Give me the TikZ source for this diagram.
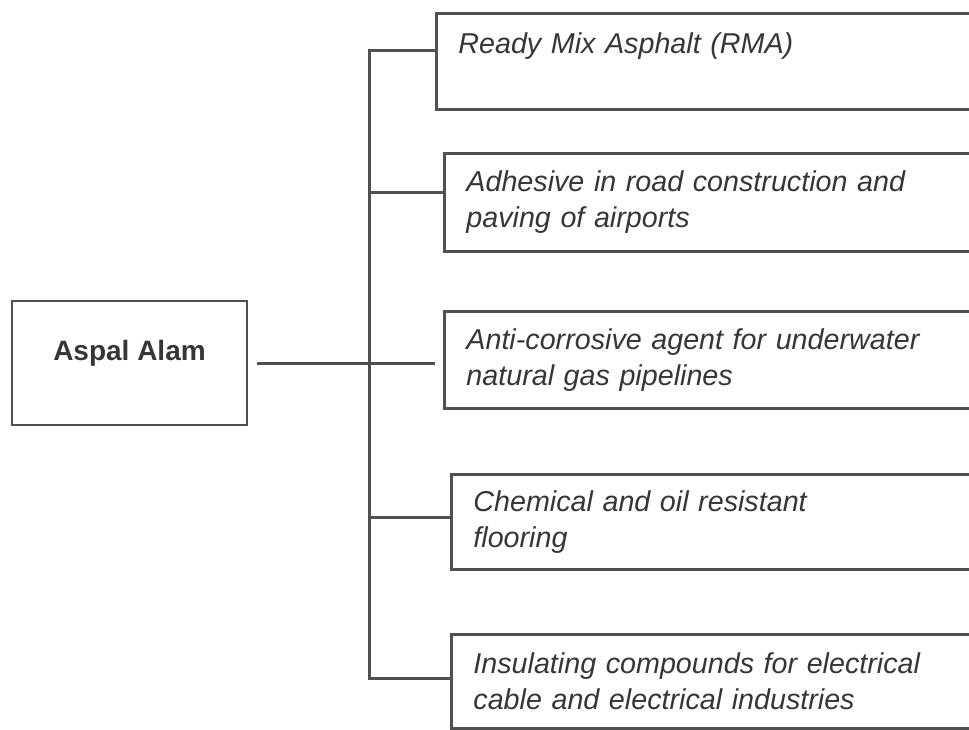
\documentclass[tikz,border=0pt]{standalone}
\usepackage{fontspec}
\setmainfont{Liberation Sans}
\usepackage{tikz}
\definecolor{linegray}{HTML}{505050}
\definecolor{textgray}{HTML}{363636}

\begin{document}
\begin{tikzpicture}[x=1pt,y=-1pt,line width=2.8pt,
  usebox/.style={draw=linegray,rectangle,anchor=north west,inner xsep=22pt,inner ysep=0pt,
    align=left,font=\fontsize{28.7}{36}\selectfont\itshape,text=textgray},
  link/.style={draw=linegray,line width=3pt}]
  \clip (0,0) rectangle (969,730);
  % Aspal Alam
  \node[draw=linegray,minimum width=235pt,minimum height=124pt,text height=10pt,text depth=16pt,
    font=\fontsize{28}{36}\selectfont\bfseries,text=textgray] (aspal) at (129.5,363) {Aspal Alam};
  % uses
  \node[usebox,text width=521pt,minimum height=96pt] (rma) at (435,12) {Ready Mix Asphalt (RMA)\\\mbox{}};
  \node[usebox,text width=513pt,minimum height=98pt] (adhesive) at (443,152) {Adhesive in road construction and\\paving of airports};
  \node[usebox,text width=513pt,minimum height=97pt] (anti) at (443,310) {Anti-corrosive agent for underwater\\natural gas pipelines};
  \node[usebox,text width=506pt,minimum height=95pt] (chem) at (450,473) {Chemical and oil resistant\\flooring};
  \node[usebox,text width=506pt,minimum height=94pt] (insul) at (450,633) {Insulating compounds for electrical\\cable and electrical industries};
  % trunk
  \coordinate (top) at (369,51);
  \coordinate (bottom) at (369,678);
  \coordinate (j2) at (369,193);
  \coordinate (j4) at (369,517);
  \draw[link] (top -| rma.west) -- (top) -- (bottom) -- (bottom -| insul.west);
  \draw[link] (j2) -- (j2 -| adhesive.west);
  \draw[link] (j4) -- (j4 -| chem.west);
  \draw[link,shorten <=9pt,shorten >=8pt] (aspal.east) -- (aspal.east -| anti.west);
\end{tikzpicture}
\end{document}
